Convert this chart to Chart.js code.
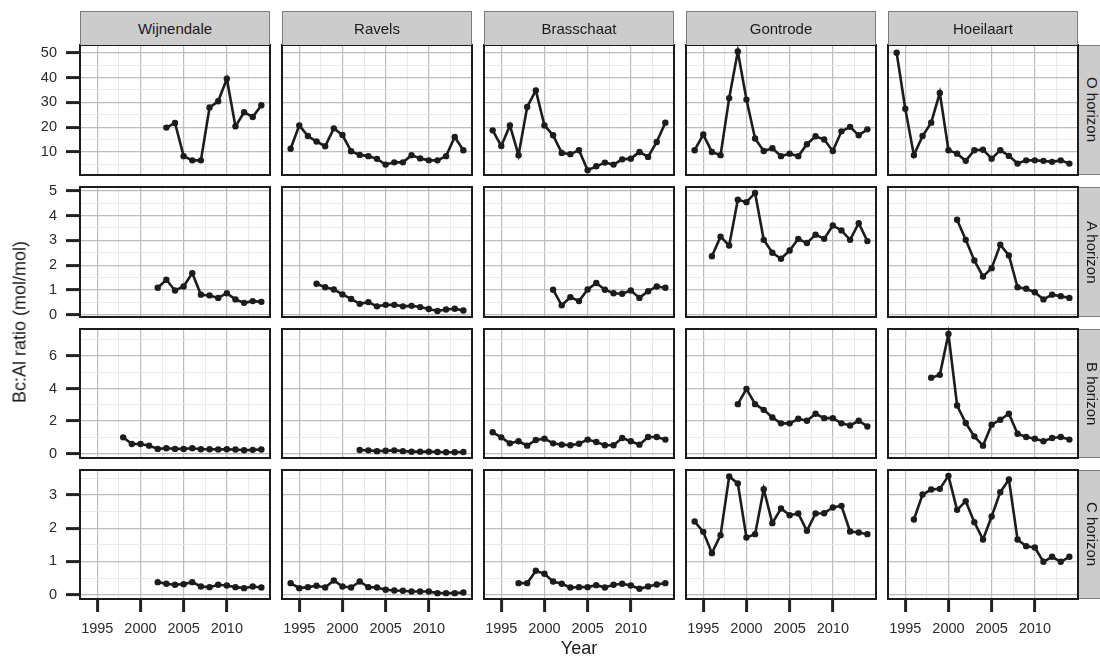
<!DOCTYPE html>
<html>
<head>
<meta charset="utf-8">
<script src="https://cdn.jsdelivr.net/npm/chart.js@4/dist/chart.umd.min.js"></script>
<style>
  body { margin: 0; width: 1100px; height: 659px; position: relative; overflow: hidden; background: #fff;
         font-family: "Liberation Sans", Arial, sans-serif; color: #1a1a1a; }
  .panel { position: absolute; }
  .strip-top { position: absolute; background: #cccccc; border: 1px solid #7a7a7a; border-bottom: none;
               box-sizing: border-box; font-size: 15px; text-align: center; }
  .strip-right { position: absolute; background: #cccccc; border: 1px solid #7a7a7a; border-left: none;
                 box-sizing: border-box; font-size: 15px; writing-mode: vertical-rl;
                 display: flex; align-items: center; justify-content: center; }
  .title-x { position: absolute; font-size: 18px; transform: translate(-50%, -50%); white-space: nowrap; }
  .title-y { position: absolute; font-size: 18px; transform: translate(-50%, -50%) rotate(-90deg); white-space: nowrap; }
</style>
</head>
<body>
<script>
'use strict';

// years on the x axis, one slot per year; null = no sample that year
var years = [1994, 1995, 1996, 1997, 1998, 1999, 2000, 2001, 2002, 2003, 2004,
             2005, 2006, 2007, 2008, 2009, 2010, 2011, 2012, 2013, 2014];

var sites = ['Wijnendale', 'Ravels', 'Brasschaat', 'Gontrode', 'Hoeilaart'];
var horizons = ['O horizon', 'A horizon', 'B horizon', 'C horizon'];

// O horizon
var wijnendaleO = [null, null, null, null, null, null, null, null, null, 19.8, 21.7, 8.3, 6.6, 6.6, 27.9, 30.4, 39.5, 20.3, 26.0, 24.1, 28.8];
var ravelsO     = [11.3, 20.7, 16.4, 14.2, 12.3, 19.5, 16.8, 10.3, 8.8, 8.3, 7.2, 4.9, 5.8, 5.8, 8.7, 7.4, 6.6, 6.6, 8.3, 16.0, 10.7];
var brasschaatO = [18.7, 12.4, 20.7, 8.7, 28.1, 34.8, 20.7, 16.7, 9.6, 9.1, 10.7, 2.6, 4.2, 5.7, 4.9, 7.0, 7.3, 10.0, 8.0, 14.0, 21.8];
var gontrodeO   = [10.7, 17.0, 10.0, 8.7, 31.7, 50.5, 31.1, 15.4, 10.4, 11.5, 8.3, 9.3, 8.3, 13.1, 16.3, 15.0, 10.4, 18.3, 20.1, 16.7, 19.1];
var hoeilaartO  = [50.0, 27.4, 8.7, 16.4, 21.8, 33.8, 10.7, 9.3, 6.4, 10.7, 10.9, 7.3, 10.7, 8.4, 5.3, 6.6, 6.6, 6.4, 6.0, 6.6, 5.3];

// A horizon
var wijnendaleA = [null, null, null, null, null, null, null, null, 1.09, 1.41, 0.98, 1.14, 1.68, 0.81, 0.78, 0.68, 0.87, 0.62, 0.48, 0.55, 0.52];
var ravelsA     = [null, null, null, 1.25, 1.11, 1.02, 0.82, 0.64, 0.44, 0.51, 0.34, 0.40, 0.40, 0.34, 0.36, 0.31, 0.23, 0.15, 0.21, 0.24, 0.17];
var brasschaatA = [null, null, null, null, null, null, null, 1.01, 0.38, 0.71, 0.55, 1.02, 1.28, 1.01, 0.87, 0.85, 0.98, 0.68, 0.95, 1.14, 1.09];
var gontrodeA   = [null, null, 2.36, 3.15, 2.79, 4.64, 4.54, 4.91, 3.02, 2.50, 2.26, 2.59, 3.06, 2.89, 3.23, 3.06, 3.60, 3.40, 3.02, 3.69, 2.97];
var hoeilaartA  = [null, null, null, null, null, null, null, 3.83, 3.02, 2.19, 1.54, 1.88, 2.82, 2.39, 1.11, 1.05, 0.91, 0.62, 0.81, 0.75, 0.68];

// B horizon
var wijnendaleB = [null, null, null, null, 1.00, 0.59, 0.59, 0.49, 0.29, 0.33, 0.29, 0.29, 0.33, 0.27, 0.27, 0.26, 0.27, 0.25, 0.21, 0.23, 0.25];
var ravelsB     = [null, null, null, null, null, null, null, null, 0.22, 0.20, 0.15, 0.18, 0.20, 0.15, 0.12, 0.12, 0.12, 0.10, 0.08, 0.08, 0.10];
var brasschaatB = [1.31, 1.00, 0.63, 0.76, 0.49, 0.84, 0.92, 0.63, 0.55, 0.51, 0.61, 0.86, 0.71, 0.51, 0.51, 0.96, 0.76, 0.55, 1.02, 1.02, 0.86];
var gontrodeB   = [null, null, null, null, null, 3.04, 3.98, 3.04, 2.69, 2.22, 1.86, 1.86, 2.14, 2.02, 2.45, 2.18, 2.18, 1.86, 1.73, 2.02, 1.67];
var hoeilaartB  = [null, null, null, null, 4.67, 4.84, 7.35, 2.96, 1.88, 1.06, 0.49, 1.78, 2.08, 2.45, 1.22, 1.02, 0.92, 0.76, 0.96, 1.02, 0.86];

// C horizon
var wijnendaleC = [null, null, null, null, null, null, null, null, 0.38, 0.33, 0.30, 0.32, 0.38, 0.25, 0.23, 0.30, 0.28, 0.23, 0.20, 0.25, 0.22];
var ravelsC     = [0.35, 0.20, 0.23, 0.27, 0.22, 0.43, 0.25, 0.22, 0.40, 0.23, 0.22, 0.15, 0.13, 0.12, 0.10, 0.10, 0.10, 0.05, 0.05, 0.05, 0.07];
var brasschaatC = [null, null, null, 0.35, 0.35, 0.72, 0.63, 0.40, 0.33, 0.22, 0.23, 0.23, 0.29, 0.22, 0.30, 0.33, 0.28, 0.18, 0.25, 0.31, 0.35];
var gontrodeC   = [2.20, 1.89, 1.25, 1.79, 3.55, 3.34, 1.72, 1.82, 3.17, 2.15, 2.59, 2.39, 2.44, 1.92, 2.44, 2.45, 2.62, 2.67, 1.90, 1.87, 1.82];
var hoeilaartC  = [null, null, 2.26, 3.01, 3.16, 3.18, 3.57, 2.55, 2.81, 2.18, 1.66, 2.35, 3.08, 3.46, 1.66, 1.46, 1.42, 0.99, 1.14, 0.99, 1.14];

// tick values
var xMajor = [1995, 2000, 2005, 2010];
var xMinor = [1997.5, 2002.5, 2007.5, 2012.5];
var oMajor = [10, 20, 30, 40, 50], oMinor = [5, 15, 25, 35, 45];
var aMajor = [0, 1, 2, 3, 4, 5],   aMinor = [0.5, 1.5, 2.5, 3.5, 4.5];
var bMajor = [0, 2, 4, 6],         bMinor = [1, 3, 5, 7];
var cMajor = [0, 1, 2, 3],         cMinor = [0.5, 1.5, 2.5, 3.5];

var grid = [
  [wijnendaleO, ravelsO, brasschaatO, gontrodeO, hoeilaartO],
  [wijnendaleA, ravelsA, brasschaatA, gontrodeA, hoeilaartA],
  [wijnendaleB, ravelsB, brasschaatB, gontrodeB, hoeilaartB],
  [wijnendaleC, ravelsC, brasschaatC, gontrodeC, hoeilaartC]
];

// shared y scale per row (facet_grid style)
var rowScales = [
  { min: 0.7,    max: 53.1,  major: oMajor, minor: oMinor },
  { min: -0.09,  max: 5.15,  major: aMajor, minor: aMinor },
  { min: -0.27,  max: 7.66,  major: bMajor, minor: bMinor },
  { min: -0.126, max: 3.746, major: cMajor, minor: cMinor }
];

// layout
var PANEL_X = [80, 282, 484, 686, 888];
var PANEL_W = 190;
var PANEL_Y = [45, 187, 329, 470];
var PANEL_H = [130, 130, 129, 129];
var LINE = '#1c1c1c';
var GRID_MAJOR = '#bdbdbd';
var GRID_MINOR = '#e8e8e8';
var TICK_FONT = { family: '"Liberation Sans", Arial, sans-serif', size: 14.5 };

// black frame round each panel
var panelBox = {
  id: 'panelBox',
  afterDatasetsDraw: function(chart) {
    var a = chart.chartArea;
    var ctx = chart.ctx;
    ctx.save();
    ctx.strokeStyle = '#1c1c1c';
    ctx.lineWidth = 2;
    ctx.strokeRect(a.left, a.top, a.right - a.left, a.bottom - a.top);
    ctx.restore();
  }
};

function setTicks(list) {
  return function(scale) {
    scale.ticks = list.map(function(v) { return { value: v }; });
  };
}

function isIn(list, v) {
  return list.indexOf(v) !== -1;
}

function makeAxis(opts) {
  var all = opts.major.concat(opts.minor).sort(function(a, b) { return a - b; });
  return {
    type: 'linear',
    min: opts.min,
    max: opts.max,
    afterBuildTicks: setTicks(all),
    afterFit: function(scale) {
      if (opts.horizontal) scale.height = opts.size; else scale.width = opts.size;
      scale.paddingLeft = 0; scale.paddingRight = 0;
      scale.paddingTop = 0; scale.paddingBottom = 0;
    },
    border: { display: false },
    grid: {
      color: function(c) { return c.tick && isIn(opts.major, c.tick.value) ? GRID_MAJOR : GRID_MINOR; },
      lineWidth: function(c) { return c.tick && isIn(opts.major, c.tick.value) ? 1.2 : 0.9; },
      drawTicks: opts.showLabels,
      tickLength: opts.horizontal ? 13 : 14,
      tickWidth: function(c) { return c.tick && isIn(opts.major, c.tick.value) ? 3 : 0; },
      tickColor: function(c) { return c.tick && isIn(opts.major, c.tick.value) ? '#222' : 'rgba(0,0,0,0)'; }
    },
    ticks: {
      display: opts.showLabels,
      autoSkip: false,
      maxRotation: 0,
      padding: opts.horizontal ? 8 : 9,
      color: '#2a2a2a',
      font: TICK_FONT,
      callback: function(v) { return isIn(opts.major, v) ? String(v) : ''; }
    }
  };
}

function makePanel(r, c) {
  var isLeft = c === 0;
  var isBottom = r === grid.length - 1;
  var pad = 4;
  var padL = isLeft ? 80 : pad;
  var padB = isBottom ? 44 : pad;
  var w = PANEL_W + padL + pad;
  var h = PANEL_H[r] + pad + padB;

  var div = document.createElement('div');
  div.className = 'panel';
  div.style.left = (PANEL_X[c] - padL) + 'px';
  div.style.top = (PANEL_Y[r] - pad) + 'px';
  var canvas = document.createElement('canvas');
  canvas.width = w;
  canvas.height = h;
  canvas.style.width = w + 'px';
  canvas.style.height = h + 'px';
  div.appendChild(canvas);
  document.body.appendChild(div);

  var values = grid[r][c];
  var pts = [];
  for (var i = 0; i < years.length; i++) {
    if (values[i] !== null) pts.push({ x: years[i], y: values[i] });
  }

  var ys = rowScales[r];

  new Chart(canvas.getContext('2d'), {
    type: 'line',
    data: {
      datasets: [{
        data: pts,
        borderColor: LINE,
        borderWidth: 2.6,
        pointRadius: 3.2,
        pointBackgroundColor: LINE,
        pointBorderWidth: 0,
        tension: 0,
        clip: 6
      }]
    },
    options: {
      responsive: false,
      animation: false,
      devicePixelRatio: 1,
      layout: { padding: { left: isLeft ? 0 : pad, right: pad, top: pad, bottom: isBottom ? 0 : pad } },
      plugins: { legend: { display: false }, tooltip: { enabled: false } },
      scales: {
        x: makeAxis({ min: 1993, max: 2015, major: xMajor, minor: xMinor,
                      horizontal: true, showLabels: isBottom, size: isBottom ? 44 : 0 }),
        y: makeAxis({ min: ys.min, max: ys.max, major: ys.major, minor: ys.minor,
                      horizontal: false, showLabels: isLeft, size: isLeft ? 80 : 0 })
      }
    },
    plugins: [panelBox]
  });
}

function addDiv(cls, text, left, top, width, height) {
  var d = document.createElement('div');
  d.className = cls;
  d.textContent = text;
  d.style.left = left + 'px';
  d.style.top = top + 'px';
  if (width) d.style.width = width + 'px';
  if (height) { d.style.height = height + 'px'; d.style.lineHeight = (height - 1) + 'px'; }
  document.body.appendChild(d);
  return d;
}

for (var r = 0; r < grid.length; r++) {
  for (var c = 0; c < sites.length; c++) {
    makePanel(r, c);
  }
}

// facet strips
sites.forEach(function(name, c) {
  addDiv('strip-top', name, PANEL_X[c], 11, PANEL_W, 34);
});
horizons.forEach(function(name, r) {
  var d = addDiv('strip-right', name, 1079, PANEL_Y[r], 28, PANEL_H[r]);
  d.style.lineHeight = 'normal';
});

// axis titles
addDiv('title-x', 'Year', 579, 648);
addDiv('title-y', 'Bc:Al ratio (mol/mol)', 20, 322);
</script>
</body>
</html>
